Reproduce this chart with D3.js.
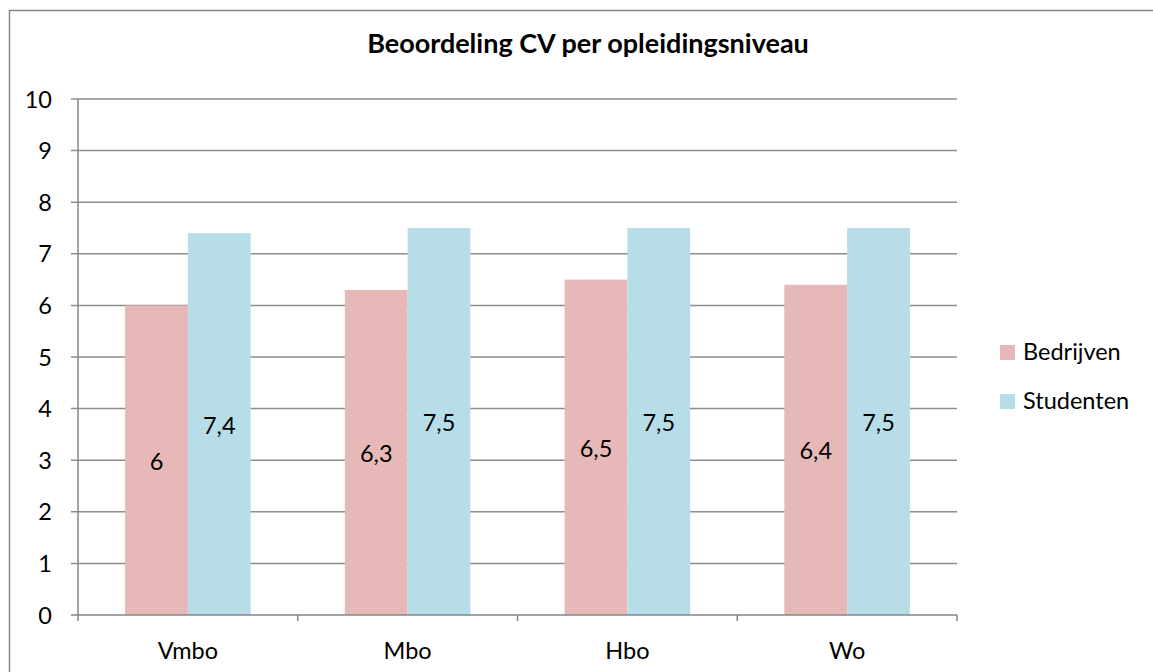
<!DOCTYPE html>
<html>
<head>
<meta charset="utf-8">
<script src="https://cdn.jsdelivr.net/npm/d3@7"></script>
<style>
  body { margin: 0; background: #fff; }
  text { font-family: Lato, "Open Sans", sans-serif; fill: #000; }
</style>
</head>
<body>
<div id="chart-container"></div>
<script>
// chart data
const categories = ["Vmbo", "Mbo", "Hbo", "Wo"];
const seriesNames = ["Bedrijven", "Studenten"];
const bedrijven = [6, 6.3, 6.5, 6.4];
const studenten = [7.4, 7.5, 7.5, 7.5];
const yTicks = [0, 1, 2, 3, 4, 5, 6, 7, 8, 9, 10];
const colors = ["#e6b9b8", "#b7dee8"];

const width = 1153;
const height = 672;
const margin = { top: 99, left: 78, right: 196, bottom: 57 };
const fontSize = "23.5px";

const svg = d3.select("#chart-container").append("svg")
    .attr("width", width)
    .attr("height", height);

// outer frame
svg.append("rect")
    .attr("x", 9.5).attr("y", 10.5)
    .attr("width", 1160).attr("height", 700)
    .attr("fill", "none")
    .attr("stroke", "#868686")
    .attr("stroke-width", 1.5);

// title
svg.append("text")
    .attr("x", 588)
    .attr("y", 53)
    .attr("text-anchor", "middle")
    .style("font-size", "27px")
    .style("font-weight", "bold")
    .text("Beoordeling CV per opleidingsniveau");

const x0 = d3.scaleBand()
    .domain(categories)
    .range([margin.left, width - margin.right]);

// gap width ~150% of a bar
const barW = x0.bandwidth() / 3.5;

const y = d3.scaleLinear()
    .domain([0, 10])
    .range([height - margin.bottom, margin.top]);

// gridlines
svg.append("g")
    .selectAll("line")
    .data(yTicks.filter(d => d > 0))
    .join("line")
    .attr("x1", margin.left - 7)
    .attr("x2", width - margin.right)
    .attr("y1", d => y(d))
    .attr("y2", d => y(d))
    .attr("stroke", "#8c8c8c")
    .attr("stroke-width", 1.5);

// y tick labels
svg.append("g")
    .selectAll("text")
    .data(yTicks)
    .join("text")
    .attr("x", 52)
    .attr("y", d => y(d) + 8.5)
    .attr("text-anchor", "end")
    .style("font-size", fontSize)
    .text(d => d);

const rows = categories.map((c, i) => ({ cat: c, values: [bedrijven[i], studenten[i]] }));

const groups = svg.append("g")
    .selectAll("g")
    .data(rows)
    .join("g")
    .attr("transform", d => `translate(${x0(d.cat) + x0.bandwidth() / 2 - barW},0)`);

groups.selectAll("rect")
    .data(d => d.values)
    .join("rect")
    .attr("x", (d, i) => i * barW)
    .attr("y", d => y(d))
    .attr("width", barW)
    .attr("height", d => y(0) - y(d))
    .attr("fill", (d, i) => colors[i]);

groups.selectAll("text")
    .data(d => d.values)
    .join("text")
    .attr("x", (d, i) => i * barW + barW / 2)
    .attr("y", d => (y(d) + y(0)) / 2 + 9.5)
    .attr("text-anchor", "middle")
    .style("font-size", fontSize)
    .text(d => String(d).replace(".", ","));

// axes lines
svg.append("line")
    .attr("x1", margin.left).attr("x2", margin.left)
    .attr("y1", margin.top).attr("y2", y(0) + 6)
    .attr("stroke", "#868686").attr("stroke-width", 1.5);

svg.append("line")
    .attr("x1", margin.left - 7).attr("x2", width - margin.right)
    .attr("y1", y(0)).attr("y2", y(0))
    .attr("stroke", "#868686").attr("stroke-width", 1.5);

// category boundary ticks
svg.append("g")
    .selectAll("line")
    .data(categories)
    .join("line")
    .attr("x1", d => x0(d) + x0.bandwidth())
    .attr("x2", d => x0(d) + x0.bandwidth())
    .attr("y1", y(0))
    .attr("y2", y(0) + 6)
    .attr("stroke", "#868686").attr("stroke-width", 1.5);

// category labels
svg.append("g")
    .selectAll("text")
    .data(categories)
    .join("text")
    .attr("x", d => x0(d) + x0.bandwidth() / 2)
    .attr("y", 659)
    .attr("text-anchor", "middle")
    .style("font-size", fontSize)
    .text(d => d);

// legend
const legend = svg.append("g")
    .selectAll("g")
    .data(seriesNames)
    .join("g")
    .attr("transform", (d, i) => `translate(1000,${345 + i * 49})`);

legend.append("rect")
    .attr("width", 15).attr("height", 15)
    .attr("fill", (d, i) => colors[i]);

legend.append("text")
    .attr("x", 23)
    .attr("y", 15)
    .style("font-size", fontSize)
    .text(d => d);
</script>
</body>
</html>
